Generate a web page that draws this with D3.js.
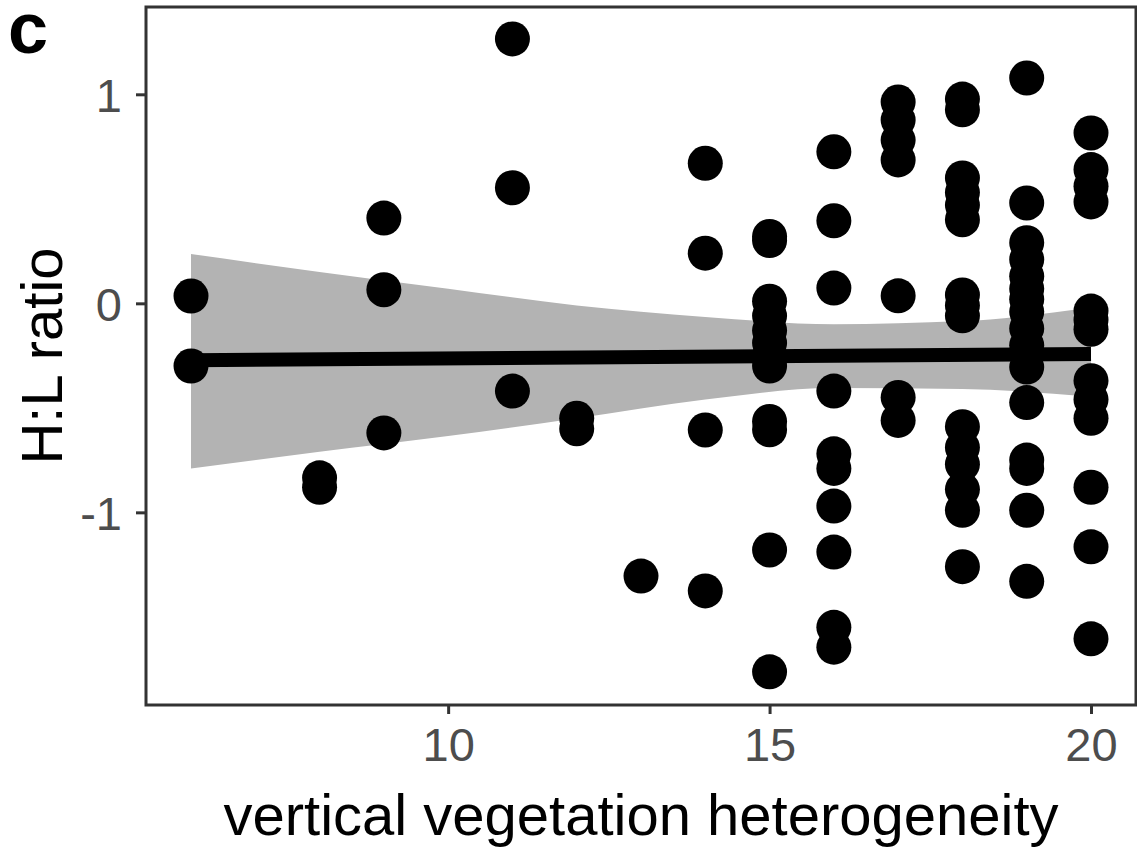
<!DOCTYPE html>
<html>
<head>
<meta charset="utf-8">
<script src="https://cdn.jsdelivr.net/npm/d3@7"></script>
<style>
    body { margin: 0; background: #ffffff; }
    svg { display: block; font-family: "Liberation Sans", Arial, sans-serif; }
</style>
</head>
<body>
<svg id="chart" width="1137" height="849"></svg>
<script>
// x values (vertical vegetation heterogeneity) and H:L ratio per point
var heterogeneity = [
    6, 6,
    8, 8,
    9, 9, 9,
    11, 11, 11,
    12, 12,
    13,
    14, 14, 14, 14,
    15, 15, 15, 15, 15, 15, 15, 15, 15, 15, 15, 15,
    16, 16, 16, 16, 16, 16, 16, 16, 16, 16,
    17, 17, 17, 17, 17, 17, 17,
    18, 18, 18, 18, 18, 18, 18, 18, 18, 18, 18, 18, 18, 18, 18,
    19, 19, 19, 19, 19, 19, 19, 19, 19, 19, 19, 19, 19, 19, 19, 19,
    20, 20, 20, 20, 20, 20, 20, 20, 20, 20, 20, 20, 20
];
var hlRatio = [
    0.035, -0.30,
    -0.835, -0.88,
    0.408, 0.065, -0.62,
    1.265, 0.553, -0.42,
    -0.55, -0.60,
    -1.305,
    0.67, 0.24, -0.606, -1.376,
    0.32, 0.30, 0.01, -0.06, -0.13, -0.19, -0.25, -0.30, -0.565, -0.605, -1.18, -1.763,
    0.725, 0.395, 0.073, -0.42, -0.72, -0.79, -0.97, -1.19, -1.55, -1.645,
    0.963, 0.877, 0.781, 0.686, 0.036, -0.45, -0.56,
    0.977, 0.926, 0.60, 0.53, 0.47, 0.40, 0.04, -0.01, -0.06, -0.59, -0.69, -0.77, -0.89, -0.99, -1.26,
    1.078, 0.48, 0.29, 0.21, 0.13, 0.07, 0.02, -0.04, -0.12, -0.20, -0.305, -0.475, -0.75, -0.79, -0.99, -1.33,
    0.815, 0.64, 0.56, 0.485, -0.037, -0.08, -0.124, -0.37, -0.46, -0.55, -0.88, -1.165, -1.605
];

// fitted line and its confidence band
var fitX = [6, 20];
var fitY = [-0.272, -0.243];
var bandX = [6, 8, 10, 12, 14, 16, 18, 20];
var bandLow = [-0.79, -0.71, -0.635, -0.55, -0.46, -0.405, -0.41, -0.447];
var bandHigh = [0.236, 0.15, 0.07, -0.01, -0.065, -0.10, -0.085, -0.02];

var xTicks = [10, 15, 20];
var yTicks = [-1, 0, 1];

var svg = d3.select("#chart");
var panelLeft = 146, panelRight = 1136, panelTop = 7, panelBottom = 705;

var x = d3.scaleLinear().domain([5.3, 20.7]).range([panelLeft, panelRight]);
var y = d3.scaleLinear().domain([-1.9217, 1.4177]).range([panelBottom, panelTop]);

var band = bandX.map(function (d, i) { return { x: d, lo: bandLow[i], hi: bandHigh[i] }; });
var points = heterogeneity.map(function (d, i) { return { x: d, y: hlRatio[i] }; });

svg.append("rect")
    .attr("width", 1137)
    .attr("height", 849)
    .attr("fill", "#ffffff");

svg.append("path")
    .datum(band)
    .attr("fill", "#b3b3b3")
    .attr("d", d3.area()
        .curve(d3.curveMonotoneX)
        .x(function (d) { return x(d.x); })
        .y0(function (d) { return y(d.lo); })
        .y1(function (d) { return y(d.hi); }));

svg.append("path")
    .datum(fitX.map(function (d, i) { return [d, fitY[i]]; }))
    .attr("fill", "none")
    .attr("stroke", "#000000")
    .attr("stroke-width", 14)
    .attr("d", d3.line()
        .x(function (d) { return x(d[0]); })
        .y(function (d) { return y(d[1]); }));

svg.append("g")
    .attr("class", "points")
    .selectAll("circle")
    .data(points)
    .enter()
    .append("circle")
    .attr("cx", function (d) { return x(d.x); })
    .attr("cy", function (d) { return y(d.y); })
    .attr("r", 17.5)
    .attr("fill", "#000000");

// panel border
svg.append("rect")
    .attr("x", panelLeft)
    .attr("y", panelTop)
    .attr("width", panelRight - panelLeft)
    .attr("height", panelBottom - panelTop)
    .attr("fill", "none")
    .attr("stroke", "#333333")
    .attr("stroke-width", 3);

var plainFormat = function (d) { return String(d); };

var xAxis = svg.append("g")
    .attr("transform", "translate(0," + panelBottom + ")")
    .call(d3.axisBottom(x).tickValues(xTicks).tickFormat(plainFormat).tickSize(9).tickPadding(14));
var yAxis = svg.append("g")
    .attr("transform", "translate(" + panelLeft + ",0)")
    .call(d3.axisLeft(y).tickValues(yTicks).tickFormat(plainFormat).tickSize(10).tickPadding(14));

[xAxis, yAxis].forEach(function (ax) {
    ax.select(".domain").remove();
    ax.selectAll(".tick line").attr("stroke", "#333333").attr("stroke-width", 3);
    ax.selectAll(".tick text")
        .attr("fill", "#4d4d4d")
        .style("font-size", "47px")
        .style("font-family", "'Liberation Sans', Arial, sans-serif");
});
yAxis.selectAll(".tick text").attr("dy", "0.36em");

svg.append("text")
    .attr("x", (panelLeft + panelRight) / 2)
    .attr("y", 835)
    .attr("text-anchor", "middle")
    .attr("fill", "#000000")
    .style("font-size", "58px")
    .text("vertical vegetation heterogeneity");

svg.append("text")
    .attr("transform", "translate(62," + (panelTop + panelBottom) / 2 + ") rotate(-90)")
    .attr("text-anchor", "middle")
    .attr("fill", "#000000")
    .style("font-size", "58px")
    .text("H:L ratio");

svg.append("text")
    .attr("x", 8)
    .attr("y", 53)
    .attr("fill", "#000000")
    .style("font-size", "72px")
    .style("font-weight", "bold")
    .text("c");
</script>
</body>
</html>
